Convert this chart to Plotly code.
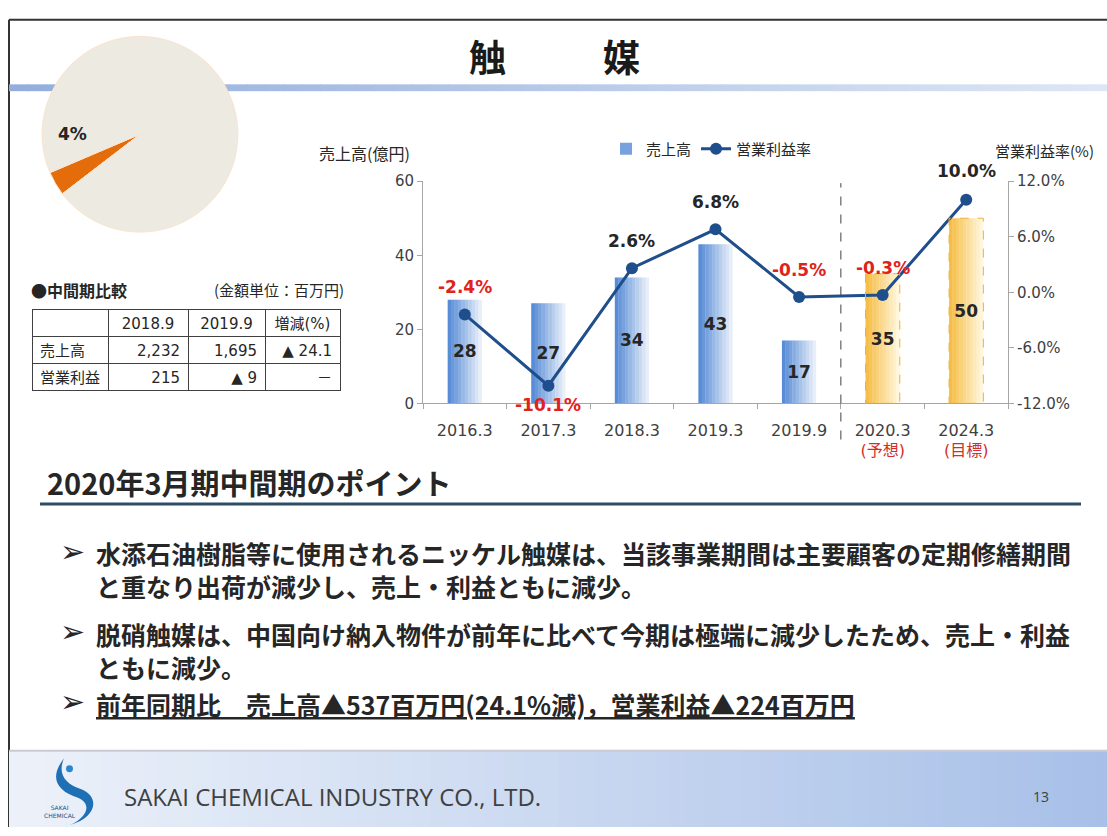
import plotly.graph_objects as go

W, H = 1107, 836

# ---------------- data ----------------
categories = ["2016.3", "2017.3", "2018.3", "2019.3", "2019.9", "2020.3", "2024.3"]
category_notes = ["", "", "", "", "", "(予想)", "(目標)"]
sales = [28, 27, 34, 43, 17, 35, 50]                 # 売上高(億円)
margin_pct = [-2.4, -10.1, 2.6, 6.8, -0.5, -0.3, 10.0]  # 営業利益率(%)
is_forecast = [False, False, False, False, False, True, True]
y1_ticks = [0, 20, 40, 60]
y2_ticks = [-12, -6, 0, 6, 12]
y2_ticktext = ["-12.0%", "-6.0%", "0.0%", "6.0%", "12.0%"]

pie_labels = ["触媒", "その他"]
pie_values = [4, 96]

table_header = ["", "2018.9", "2019.9", "増減(%)"]
table_items = ["売上高", "営業利益"]
table_2018 = ["2,232", "215"]
table_2019 = ["1,695", "▲ 9"]
table_change = ["▲ 24.1", "－"]

bullets = [
    ["水添石油樹脂等に使用されるニッケル触媒は、当該事業期間は主要顧客の定期修繕期間",
     "と重なり出荷が減少し、売上・利益ともに減少。"],
    ["脱硝触媒は、中国向け納入物件が前年に比べて今期は極端に減少したため、売上・利益",
     "ともに減少。"],
    ["<u>前年同期比　売上高▲537百万円(24.1%減)，営業利益▲224百万円</u>"],
]

# ---------------- helpers ----------------
CJK = "Noto Sans CJK JP"
NUM = "DejaVu Sans, Noto Sans CJK JP"
DARK = "#262626"
RED = "#E0221C"


def px(x):
    return x / W


def py(y):
    return 1 - y / H


def lerp(c1, c2, t):
    return "rgb(%d,%d,%d)" % tuple(round(a + (b - a) * t) for a, b in zip(c1, c2))


xpos = list(range(len(categories)))

fig = go.Figure()
shapes = []
annotations = []

# ---------------- slide decoration ----------------
shapes.append(dict(type="line", xref="paper", yref="paper", x0=px(9), x1=1, y0=py(11), y1=py(11),
                   line=dict(color="#333333", width=2), layer="below"))
shapes.append(dict(type="line", xref="paper", yref="paper", x0=px(9), x1=px(9), y0=py(11), y1=0,
                   line=dict(color="#333333", width=2), layer="below"))
n = 60
for i in range(n):
    x0 = 9 + (W - 9) * i / n
    x1 = 9 + (W - 9) * (i + 1) / n + 1
    shapes.append(dict(type="rect", xref="paper", yref="paper", x0=px(x0), x1=px(x1), y0=py(84), y1=py(77),
                       fillcolor=lerp((0x93, 0xAD, 0xDD), (0xDC, 0xE6, 0xF5), i / (n - 1)),
                       line=dict(width=0), layer="below"))
for i in range(n):
    x0 = 9 + (W - 9) * i / n
    x1 = 9 + (W - 9) * (i + 1) / n + 1
    shapes.append(dict(type="rect", xref="paper", yref="paper", x0=px(x0), x1=px(x1), y0=0, y1=py(758),
                       fillcolor=lerp((0xEC, 0xF1, 0xF9), (0xA8, 0xC0, 0xE8), i / (n - 1)),
                       line=dict(width=0), layer="below"))
shapes.append(dict(type="line", xref="paper", yref="paper", x0=px(9), x1=1, y0=py(758), y1=py(758),
                   line=dict(color="#C8CCD2", width=2), layer="below"))
shapes.append(dict(type="path", xref="paper", yref="paper",
                   path="M %f %f C %f %f, %f %f, %f %f C %f %f, %f %f, %f %f C %f %f, %f %f, %f %f C %f %f, %f %f, %f %f Z" % (
                       px(64), py(766), px(48), py(786), px(58), py(800), px(78), py(806),
                       px(92), py(812), px(88), py(826), px(70), py(834),
                       px(98), py(826), px(100), py(804), px(80), py(797),
                       px(66), py(792), px(57), py(782), px(64), py(766)),
                   fillcolor="#1F6FB5", line=dict(width=0), layer="below"))
shapes.append(dict(type="circle", xref="paper", yref="paper", x0=px(66), x1=px(73), y0=py(780), y1=py(773),
                   fillcolor="#2A86D0", line=dict(width=0), layer="below"))
annotations.append(dict(text="SAKAI<br>CHEMICAL", x=px(60), y=py(820), xref="paper", yref="paper",
                        showarrow=False, xanchor="center", yanchor="middle",
                        font=dict(family="DejaVu Sans", size=6, color="#1F4E8C")))
annotations.append(dict(text="SAKAI CHEMICAL INDUSTRY CO., LTD.", x=px(122), y=py(805), xref="paper", yref="paper",
                        showarrow=False, xanchor="left", yanchor="middle",
                        font=dict(family="Open Sans", size=24, color="#404040")))
annotations.append(dict(text="13", x=px(1041), y=py(805), xref="paper", yref="paper",
                        showarrow=False, xanchor="center", yanchor="middle",
                        font=dict(family="Open Sans", size=14, color="#404040")))

for ch, cx in [("触", 487), ("媒", 621)]:
    annotations.append(dict(text="<b>%s</b>" % ch, x=px(cx), y=py(48), xref="paper", yref="paper",
                            showarrow=False, xanchor="center", yanchor="middle",
                            font=dict(family=CJK, size=37, color="#1A1A1A")))

# ---------------- pie ----------------
fig.add_trace(go.Pie(labels=pie_labels, values=pie_values, sort=False, direction="clockwise",
                     rotation=232.5, textinfo="none", hoverinfo="label+percent", showlegend=False,
                     marker=dict(colors=["#E46C0A", "#EDEAE2"], line=dict(color="#FBE3CF", width=1)),
                     domain=dict(x=[px(40), px(240)], y=[py(228), py(28)])))
annotations.append(dict(text="<b>%d%%</b>" % pie_values[0], x=px(72), y=py(128), xref="paper", yref="paper",
                        showarrow=False, xanchor="center", yanchor="middle",
                        font=dict(family=NUM, size=17, color=DARK)))

# ---------------- table ----------------
annotations.append(dict(text="<b>●中間期比較</b>", x=px(29), y=py(287), xref="paper", yref="paper",
                        showarrow=False, xanchor="left", yanchor="middle",
                        font=dict(family=CJK, size=16, color=DARK)))
annotations.append(dict(text="(金額単位：百万円)", x=px(346), y=py(287), xref="paper", yref="paper",
                        showarrow=False, xanchor="right", yanchor="middle",
                        font=dict(family=CJK, size=15, color=DARK)))
fig.add_trace(go.Table(
    domain=dict(x=[px(32), px(340)], y=[py(420), py(307)]),
    columnwidth=[76, 80, 77, 75],
    header=dict(values=table_header, align="center",
                fill_color="white", line=dict(color="#404040", width=1), height=27,
                font=dict(family=NUM, size=15, color=DARK)),
    cells=dict(values=[table_items, table_2018, table_2019, table_change],
               align=["left", "right", "right", "right"],
               fill_color="white", line=dict(color="#404040", width=1), height=27,
               font=dict(family=NUM, size=15, color=DARK)),
))

# ---------------- combo chart ----------------
bw = 0.41
N = 10
blue_l, blue_r = (0x58, 0x8C, 0xD6), (0xE8, 0xEF, 0xF9)
yel_l, yel_r = (0xF6, 0xBE, 0x48), (0xFF, 0xF6, 0xDC)
for k in range(N):
    t = k / (N - 1)
    cols = [lerp(yel_l, yel_r, t) if f else lerp(blue_l, blue_r, t) for f in is_forecast]
    w = bw / N + (0.004 if k < N - 1 else 0)
    fig.add_trace(go.Bar(x=xpos, y=sales, width=w, offset=-bw / 2 + k * bw / N,
                         marker=dict(color=cols, line=dict(width=0)),
                         name="売上高", showlegend=(k == 2), legendrank=1, hoverinfo="skip"))
fig.add_trace(go.Bar(x=xpos, y=sales, width=bw, offset=-bw / 2,
                     marker=dict(color="rgba(0,0,0,0)", line=dict(width=0)),
                     text=[str(v) for v in sales], textposition="inside", insidetextanchor="middle",
                     textangle=0, constraintext="none",
                     textfont=dict(family=NUM, size=17, color=DARK, weight="bold"),
                     customdata=categories,
                     showlegend=False, hovertemplate="%{customdata}: %{y}億円<extra></extra>"))
for i, (v, f) in enumerate(zip(sales, is_forecast)):
    if f:
        shapes.append(dict(type="rect", xref="x", yref="y", x0=xpos[i] - bw / 2, x1=xpos[i] + bw / 2, y0=0, y1=v,
                           line=dict(color="#EDB23C", width=1, dash="dash"), fillcolor="rgba(0,0,0,0)"))

fig.add_trace(go.Scatter(x=xpos, y=margin_pct, yaxis="y2", mode="lines+markers",
                         name="営業利益率", legendrank=2, customdata=categories,
                         line=dict(color="#1F4E8C", width=3),
                         marker=dict(color="#1F4E8C", size=12),
                         hovertemplate="%{customdata}: %{y:.1f}%<extra></extra>"))
label_shift = [27, -19, 27, 27, 27, 27, 29]
for xi, v, s in zip(xpos, margin_pct, label_shift):
    annotations.append(dict(text="<b>%.1f%%</b>" % v, x=xi, y=v, xref="x", yref="y2", yshift=s,
                            showarrow=False, xanchor="center", yanchor="middle",
                            font=dict(family=NUM, size=17, color=RED if v < 0 else DARK)))

shapes.append(dict(type="line", xref="x", yref="paper", x0=4.5, x1=4.5, y0=py(440), y1=py(178),
                   line=dict(color="#404040", width=1, dash="dash")))

tick_text = [c if not note else "%s<br><span style='color:%s'>%s</span>" % (c, "#D0302A", note)
             for c, note in zip(categories, category_notes)]

annotations.append(dict(text="売上高(億円)", x=px(364), y=py(147), xref="paper", yref="paper",
                        showarrow=False, xanchor="center", yanchor="middle",
                        font=dict(family=CJK, size=16, color=DARK)))
annotations.append(dict(text="営業利益率(%)", x=px(993), y=py(145), xref="paper", yref="paper",
                        showarrow=False, xanchor="left", yanchor="middle",
                        font=dict(family=CJK, size=15, color=DARK)))

# ---------------- section text ----------------
annotations.append(dict(text="<b>2020年3月期中間期のポイント</b>", x=px(45), y=py(483), xref="paper", yref="paper",
                        showarrow=False, xanchor="left", yanchor="middle",
                        font=dict(family=CJK, size=29, color=DARK)))
shapes.append(dict(type="line", xref="paper", yref="paper", x0=px(40), x1=px(1081), y0=py(506), y1=py(506),
                   line=dict(color="#2E4C66", width=3)))
bullet_top = [536, 618, 690]
for lines, yt in zip(bullets, bullet_top):
    annotations.append(dict(text="➢", x=px(58), y=py(yt + 18), xref="paper", yref="paper",
                            showarrow=False, xanchor="left", yanchor="middle",
                            font=dict(family="DejaVu Sans", size=30, color=DARK)))
    annotations.append(dict(text="<br>".join("<b>%s</b>" % t for t in lines),
                            x=px(94), y=py(yt), xref="paper", yref="paper",
                            showarrow=False, xanchor="left", yanchor="top", align="left",
                            font=dict(family=CJK, size=25, color=DARK)))

axis_col = "#A6A6A6"
fig.update_layout(
    width=W, height=H, autosize=False,
    margin=dict(l=0, r=0, t=0, b=0),
    paper_bgcolor="white", plot_bgcolor="rgba(0,0,0,0)",
    barmode="overlay",
    font=dict(family=CJK, color=DARK),
    xaxis=dict(domain=[px(423), px(1008)], range=[-0.5, len(categories) - 0.5],
               tickmode="array", tickvals=xpos, ticktext=tick_text, ticks="",
               ticklabelstandoff=12,
               minor=dict(tickmode="array", tickvals=[i + 0.5 for i in xpos[:-1]] + [-0.5, xpos[-1] + 0.5],
                          ticks="outside", ticklen=5, tickcolor=axis_col, showgrid=False),
               showline=True, linecolor=axis_col, linewidth=1, showgrid=False, zeroline=False,
               tickfont=dict(family=NUM, size=16, color="#404040"), fixedrange=True),
    yaxis=dict(domain=[py(403), py(176)], range=[0, 60], tickmode="array", tickvals=y1_ticks,
               ticks="outside", ticklen=5, tickcolor=axis_col, showline=True, linecolor=axis_col,
               showgrid=False, zeroline=False,
               tickfont=dict(family=NUM, size=15, color="#404040"), fixedrange=True),
    yaxis2=dict(overlaying="y", side="right", anchor="x", range=[-12, 12], tickmode="array",
                tickvals=y2_ticks, ticktext=y2_ticktext,
                ticks="outside", ticklen=5, tickcolor=axis_col, showline=True, linecolor=axis_col,
                showgrid=False, zeroline=False,
                tickfont=dict(family=NUM, size=15, color="#404040"), fixedrange=True),
    legend=dict(orientation="h", x=px(606), y=py(143), xanchor="left", yanchor="middle",
                font=dict(family=CJK, size=15, color=DARK), bgcolor="rgba(0,0,0,0)",
                itemwidth=30, traceorder="normal"),
    shapes=shapes,
    annotations=annotations,
    showlegend=True,
)

fig.write_html("out.html")
